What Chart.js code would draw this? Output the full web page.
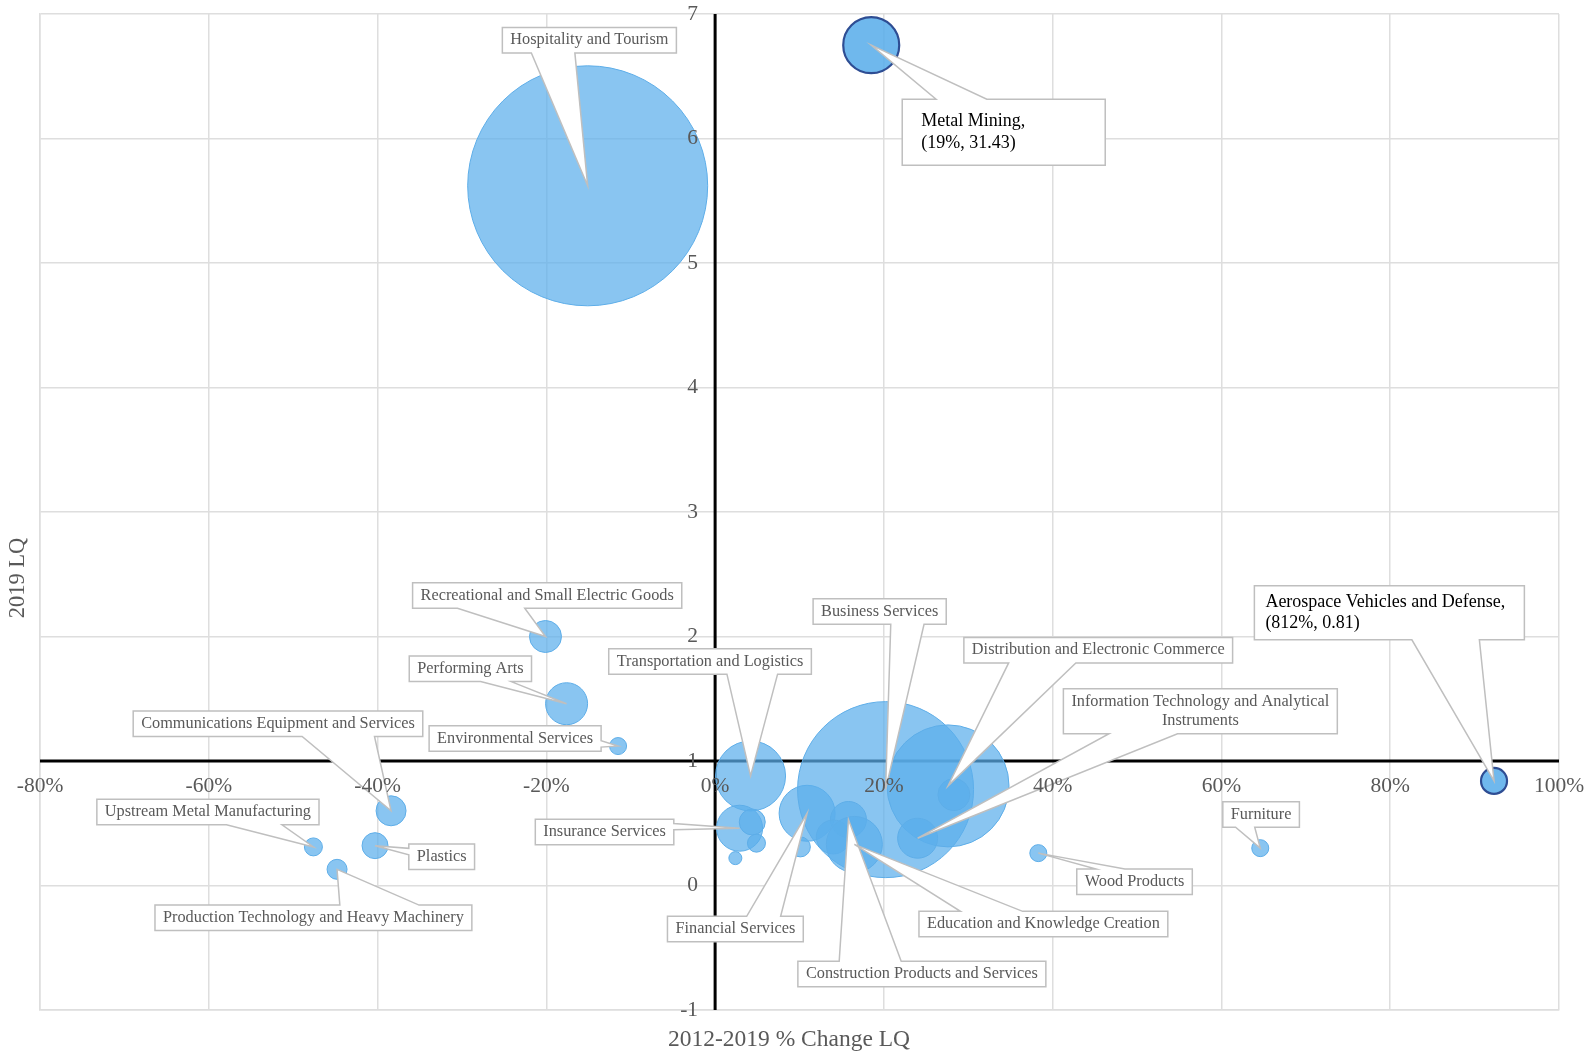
<!DOCTYPE html>
<html lang="en">
<head>
    <meta charset="UTF-8" />
    <title>2019 LQ vs 2012-2019 % Change LQ</title>
    <script src="https://cdn.jsdelivr.net/npm/chart.js"></script>
    <style>
        * { box-sizing: border-box; margin: 0; padding: 0; }
        body { background: #ffffff; width: 1596px; height: 1055px; overflow: hidden; }
        .chart-container { position: relative; width: 1596px; height: 1055px; }
    </style>
</head>
<body>
    <div class="chart-container"><canvas id="lqChart"></canvas></div>

    <script>
        // industry clusters
        const industries = [
            'Hospitality and Tourism', 'Metal Mining', 'Aerospace Vehicles and Defense',
            'Recreational and Small Electric Goods', 'Performing Arts', 'Environmental Services',
            'Communications Equipment and Services', 'Upstream Metal Manufacturing', 'Plastics',
            'Production Technology and Heavy Machinery', 'Transportation and Logistics', 'Insurance Services',
            '', '', '', 'Financial Services', '', 'Business Services',
            'Distribution and Electronic Commerce', '', 'Information Technology and Analytical Instruments',
            'Construction Products and Services', '', 'Education and Knowledge Creation',
            'Wood Products', 'Furniture'
        ];
        const pctChange = [
            -15.1, 18.5, 92.3,
            -20.1, -17.6, -11.5,
            -38.4, -47.6, -40.3,
            -44.8, 4.2, 2.9,
            4.4, 4.9, 2.4, 10.9, 10.1, 20.2,
            27.6, 28.3, 24.0,
            15.8, 14.0, 16.5,
            38.3, 64.6
        ];
        const lq2019 = [
            5.62, 6.75, 0.84,
            2.00, 1.46, 1.12,
            0.60, 0.31, 0.32,
            0.13, 0.88, 0.46,
            0.51, 0.34, 0.22, 0.58, 0.31, 0.77,
            0.80, 0.73, 0.38,
            0.53, 0.39, 0.33,
            0.26, 0.30
        ];
        const bubbleSize = [
            120, 28, 13,
            16, 21, 8.5,
            15, 9, 13,
            10, 35, 23,
            13, 9, 6.5, 28, 10, 88,
            61, 16, 20,
            18, 17, 28,
            8.5, 8.5
        ];
        // outliers shown at the chart edge, with their real values in the label
        const highlighted = ['Metal Mining', 'Aerospace Vehicles and Defense'];
        const highlightText = {
            'Metal Mining': ['Metal Mining,', '(19%, 31.43)'],
            'Aerospace Vehicles and Defense': ['Aerospace Vehicles and Defense,', '(812%, 0.81)']
        };

        const xTicks = [-80, -60, -40, -20, 0, 20, 40, 60, 80, 100];
        const yTicks = [-1, 0, 1, 2, 3, 4, 5, 6, 7];
        const xTitle = '2012-2019 % Change LQ';
        const yTitle = '2019 LQ';

        // callout placement (box centre in axis units)
        const callouts = [
            { name: 'Hospitality and Tourism', at: [-14.9, 6.79] },
            { name: 'Metal Mining', at: [34.2, 6.05], w: 203, h: 66, big: true },
            { name: 'Aerospace Vehicles and Defense', at: [79.9, 2.19], w: 270, h: 54, big: true },
            { name: 'Recreational and Small Electric Goods', at: [-19.9, 2.33] },
            { name: 'Performing Arts', at: [-29.0, 1.74] },
            { name: 'Environmental Services', at: [-23.7, 1.18] },
            { name: 'Communications Equipment and Services', at: [-51.8, 1.30] },
            { name: 'Upstream Metal Manufacturing', at: [-60.1, 0.59] },
            { name: 'Plastics', at: [-32.4, 0.23] },
            { name: 'Production Technology and Heavy Machinery', at: [-47.6, -0.26] },
            { name: 'Transportation and Logistics', at: [-0.6, 1.80] },
            { name: 'Insurance Services', at: [-13.1, 0.43] },
            { name: 'Financial Services', at: [2.4, -0.35] },
            { name: 'Business Services', at: [19.5, 2.20] },
            { name: 'Distribution and Electronic Commerce', at: [45.4, 1.89] },
            { name: 'Information Technology and Analytical Instruments', at: [57.5, 1.40],
              lines: ['Information Technology and Analytical', 'Instruments'] },
            { name: 'Construction Products and Services', at: [24.5, -0.71] },
            { name: 'Education and Knowledge Creation', at: [38.9, -0.31] },
            { name: 'Wood Products', at: [49.7, 0.03] },
            { name: 'Furniture', at: [64.7, 0.57] }
        ];

        const SERIF = "'Liberation Serif', 'Times New Roman', serif";
        const GREY_TEXT = '#595959';

        function calloutPath(ctx, x, y, w, h, tip) {
            const cx = x + w / 2, cy = y + h / 2;
            const dx = tip.x - cx, dy = tip.y - cy;
            let side = null, b1, b2;
            const inside = Math.abs(dx) <= w / 2 && Math.abs(dy) <= h / 2;
            if (!inside) {
                if (Math.abs(dx) / w > Math.abs(dy) / h) {
                    side = dx > 0 ? 'right' : 'left';
                    [b1, b2] = dy < 0 ? [y + h * 2 / 12, y + h * 5 / 12] : [y + h * 7 / 12, y + h * 10 / 12];
                } else {
                    side = dy > 0 ? 'bottom' : 'top';
                    [b1, b2] = dx < 0 ? [x + w * 2 / 12, x + w * 5 / 12] : [x + w * 7 / 12, x + w * 10 / 12];
                }
            }
            ctx.beginPath();
            ctx.moveTo(x, y);
            if (side === 'top') { ctx.lineTo(b1, y); ctx.lineTo(tip.x, tip.y); ctx.lineTo(b2, y); }
            ctx.lineTo(x + w, y);
            if (side === 'right') { ctx.lineTo(x + w, b1); ctx.lineTo(tip.x, tip.y); ctx.lineTo(x + w, b2); }
            ctx.lineTo(x + w, y + h);
            if (side === 'bottom') { ctx.lineTo(b2, y + h); ctx.lineTo(tip.x, tip.y); ctx.lineTo(b1, y + h); }
            ctx.lineTo(x, y + h);
            if (side === 'left') { ctx.lineTo(x, b2); ctx.lineTo(tip.x, tip.y); ctx.lineTo(x, b1); }
            ctx.closePath();
        }

        const axesAndLabels = {
            id: 'axesAndLabels',
            beforeDatasetsDraw(chart) {
                const { ctx, chartArea, scales: { x, y } } = chart;
                const x0 = x.getPixelForValue(0);
                const y1 = y.getPixelForValue(1);
                ctx.save();
                // crossing axis lines
                ctx.strokeStyle = '#000000';
                ctx.lineWidth = 3;
                ctx.beginPath();
                ctx.moveTo(x0, chartArea.top);
                ctx.lineTo(x0, chartArea.bottom);
                ctx.moveTo(chartArea.left, y1);
                ctx.lineTo(chartArea.right, y1);
                ctx.stroke();

                // axis titles
                ctx.fillStyle = GREY_TEXT;
                ctx.textAlign = 'center';
                ctx.textBaseline = 'middle';
                ctx.font = `23.5px ${SERIF}`;
                ctx.fillText(xTitle, 789, 1040);
                ctx.font = `22.5px ${SERIF}`;
                ctx.translate(18, 578);
                ctx.rotate(-Math.PI / 2);
                ctx.fillText(yTitle, 0, 0);
                ctx.restore();
            },
            afterDatasetsDraw(chart) {
                const { ctx, scales: { x, y } } = chart;
                ctx.save();
                callouts.forEach(c => {
                    const i = industries.indexOf(c.name);
                    const tip = { x: x.getPixelForValue(pctChange[i]), y: y.getPixelForValue(lq2019[i]) };
                    const lines = c.big ? highlightText[c.name] : (c.lines || [c.name]);
                    const size = c.big ? 18 : 16.3;
                    ctx.font = `${size}px ${SERIF}`;
                    const textW = Math.max(...lines.map(l => ctx.measureText(l).width));
                    const lineH = c.big ? 21.5 : 19.5;
                    const w = c.w || textW + 16;
                    const h = c.h || lines.length * lineH + 6;
                    const bx = x.getPixelForValue(c.at[0]) - w / 2;
                    const by = y.getPixelForValue(c.at[1]) - h / 2;

                    calloutPath(ctx, bx, by, w, h, tip);
                    ctx.fillStyle = '#ffffff';
                    ctx.fill();
                    ctx.strokeStyle = '#bfbfbf';
                    ctx.lineWidth = 1.5;
                    ctx.stroke();

                    ctx.fillStyle = c.big ? '#000000' : GREY_TEXT;
                    ctx.textBaseline = 'middle';
                    const startY = by + h / 2 - (lines.length - 1) * lineH / 2;
                    if (c.big) {
                        ctx.textAlign = 'left';
                        const padX = c.name === 'Metal Mining' ? 19 : 11;
                        lines.forEach((l, k) => ctx.fillText(l, bx + padX, startY + k * lineH));
                    } else {
                        ctx.textAlign = 'center';
                        lines.forEach((l, k) => ctx.fillText(l, bx + w / 2, startY + k * lineH));
                    }
                });

                // tick labels along the crossing axes, on top of marks
                const x0 = x.getPixelForValue(0);
                const y1 = y.getPixelForValue(1);
                ctx.fillStyle = GREY_TEXT;
                ctx.font = `21.5px ${SERIF}`;
                ctx.textAlign = 'center';
                ctx.textBaseline = 'middle';
                xTicks.forEach(v => ctx.fillText(v + '%', x.getPixelForValue(v), y1 + 25));
                ctx.textAlign = 'right';
                yTicks.forEach(v => ctx.fillText(String(v), x0 - 17, y.getPixelForValue(v)));
                ctx.restore();
            }
        };

        function renderChart() {
            const ctx = document.getElementById('lqChart').getContext('2d');
            const isHi = industries.map(n => highlighted.includes(n));
            new Chart(ctx, {
                type: 'bubble',
                data: {
                    datasets: [{
                        label: '2019 LQ',
                        data: industries.map((n, i) => ({ x: pctChange[i], y: lq2019[i], r: bubbleSize[i] })),
                        backgroundColor: isHi.map(h => h ? 'rgba(91, 174, 235, 0.88)' : 'rgba(91, 174, 235, 0.72)'),
                        borderColor: isHi.map(h => h ? '#2e4d93' : '#5dade8'),
                        borderWidth: isHi.map(h => h ? 2.2 : 1)
                    }]
                },
                options: {
                    responsive: true,
                    maintainAspectRatio: false,
                    animation: false,
                    events: [],
                    layout: { autoPadding: false, padding: { left: 40, right: 37, top: 14, bottom: 45 } },
                    plugins: {
                        legend: { display: false },
                        tooltip: { enabled: false }
                    },
                    scales: {
                        x: {
                            type: 'linear', min: -80, max: 100,
                            ticks: { display: false, stepSize: 20 },
                            grid: { color: '#dedede', lineWidth: 1.5, drawTicks: false },
                            border: { color: '#dedede', width: 1.5 }
                        },
                        y: {
                            type: 'linear', min: -1, max: 7,
                            ticks: { display: false, stepSize: 1 },
                            grid: { color: '#dedede', lineWidth: 1.5, drawTicks: false },
                            border: { color: '#dedede', width: 1.5 }
                        }
                    }
                },
                plugins: [axesAndLabels]
            });
        }

        renderChart();
    </script>
</body>
</html>
